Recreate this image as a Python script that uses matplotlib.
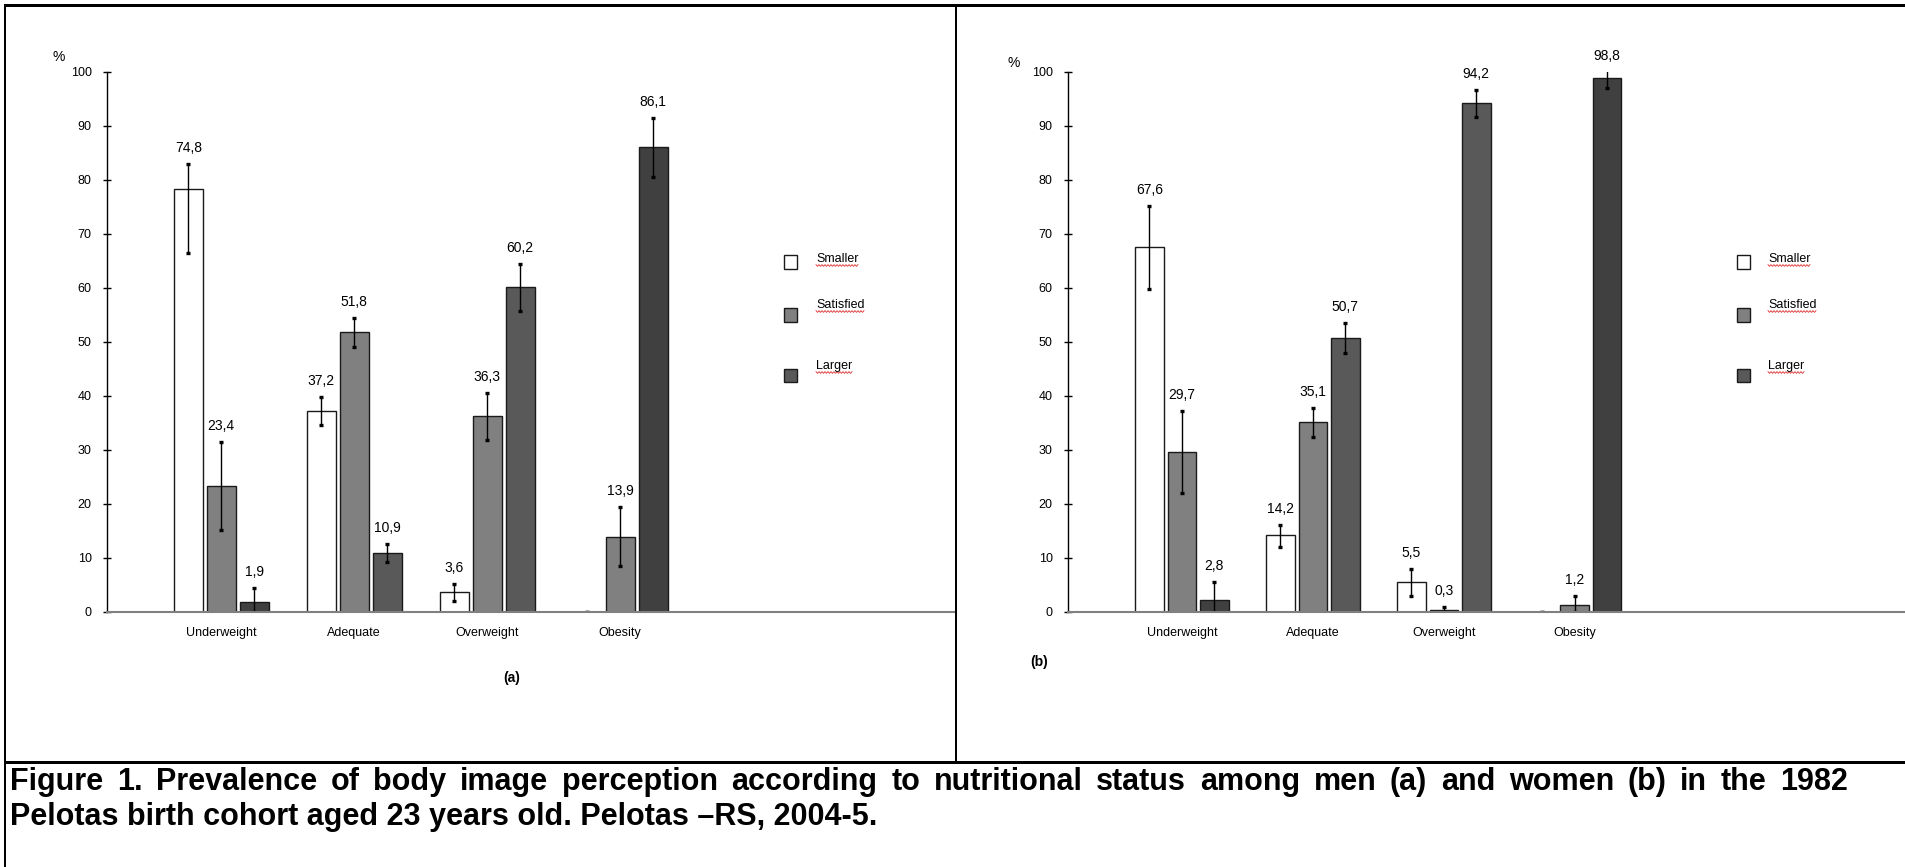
import numpy as np
import matplotlib
matplotlib.use("Agg")
import matplotlib.pyplot as plt
from matplotlib.lines import Line2D
from matplotlib.patches import Rectangle

plt.rcParams['font.family'] = ['Liberation Sans', 'DejaVu Sans']

# ---------------- data ----------------
categories = ["Underweight", "Adequate", "Overweight", "Obesity"]
series = ["Smaller", "Satisfied", "Larger"]

# Panel (a) men
a_values = {
    "Smaller":   [78.4, 37.2, 3.7, 0.0],
    "Satisfied": [23.4, 51.8, 36.3, 13.9],
    "Larger":    [1.9, 10.9, 60.2, 86.1],
}
a_hi = {
    "Smaller":   [83.0, 39.8, 5.2, 0.0],
    "Satisfied": [31.5, 54.5, 40.5, 19.4],
    "Larger":    [4.4, 12.6, 64.5, 91.4],
}
a_lo = {
    "Smaller":   [66.4, 34.6, 2.0, 0.0],
    "Satisfied": [15.2, 49.1, 31.9, 8.6],
    "Larger":    [0.0, 9.2, 55.8, 80.5],
}
a_labels = {
    "Smaller":   ["74,8", "37,2", "3,6", None],
    "Satisfied": ["23,4", "51,8", "36,3", "13,9"],
    "Larger":    ["1,9", "10,9", "60,2", "86,1"],
}

# Panel (b) women
b_values = {
    "Smaller":   [67.6, 14.2, 5.6, 0.0],
    "Satisfied": [29.7, 35.1, 0.4, 1.3],
    "Larger":    [2.2, 50.8, 94.2, 98.8],
}
b_hi = {
    "Smaller":   [75.2, 16.1, 8.0, 0.0],
    "Satisfied": [37.2, 37.8, 1.0, 2.9],
    "Larger":    [5.5, 53.5, 96.6, 101.0],
}
b_lo = {
    "Smaller":   [59.8, 12.1, 3.0, 0.0],
    "Satisfied": [22.1, 32.4, 0.0, 0.0],
    "Larger":    [0.0, 48.0, 91.6, 97.0],
}
b_labels = {
    "Smaller":   ["67,6", "14,2", "5,5", None],
    "Satisfied": ["29,7", "35,1", "0,3", "1,2"],
    "Larger":    ["2,8", "50,7", "94,2", "98,8"],
}

yticks = list(range(0, 101, 10))
caption_lines = [
    "Figure 1. Prevalence of body image perception according to nutritional status among men (a) and women (b) in the 1982",
    "Pelotas birth cohort aged 23 years old. Pelotas \u2013RS, 2004-5.",
]

# ---------------- styles ----------------
series_colors = {
    "Smaller":   ["#ffffff"] * 4,
    "Satisfied": ["#808080"] * 4,
    "Larger":    ["#404040", "#595959", "#595959", "#404040"],
}
legend_colors = {"Smaller": "#ffffff", "Satisfied": "#808080", "Larger": "#595959"}

W, H = 1906, 867
fig = plt.figure(figsize=(W / 100, H / 100), dpi=100)


def fx(px):
    return px / W


def fy(py):
    return 1 - py / H


def draw_panel(ax, values, hi, lo, labels, xlim):
    x = np.arange(len(categories))
    width = 0.218
    step = 0.248
    for i, s in enumerate(series):
        pos = x + (i - 1) * step
        v = np.array(values[s])
        h = np.array(hi[s])
        l = np.array(lo[s])
        ax.bar(pos, v, width=width, color=series_colors[s], edgecolor="#1a1a1a",
               linewidth=1.0, zorder=2)
        ax.errorbar(pos, v, yerr=[v - l, h - v], fmt="none", ecolor="black",
                    elinewidth=1.0, capsize=1.2, capthick=2.4, zorder=3)
        for p, top, lab in zip(pos, h, labels[s]):
            if lab is None:
                continue
            ax.annotate(lab, (p, min(top, 100)), xytext=(0, 11.5),
                        textcoords="offset points", ha="center", va="center",
                        fontsize=10, color="black", annotation_clip=False)
    ax.set_xlim(*xlim)
    ax.set_ylim(0, 100)
    ax.set_yticks(yticks)
    ax.set_yticklabels([str(t) for t in yticks])
    ax.set_xticks(x)
    ax.set_xticklabels(categories)
    ax.tick_params(axis="y", direction="inout", length=6, width=1, pad=8,
                   labelsize=9, colors="black")
    ax.tick_params(axis="x", length=0, pad=10.5, labelsize=9)
    for sp in ["top", "right"]:
        ax.spines[sp].set_visible(False)
    ax.spines["left"].set_color("black")
    ax.spines["left"].set_linewidth(1.0)
    ax.spines["bottom"].set_color("#808080")
    ax.spines["bottom"].set_linewidth(1.5)
    ax.spines["bottom"].set_zorder(4)
    ax.patch.set_alpha(0)


y0, y100 = 612, 72
axA = fig.add_axes([fx(107), fy(y0), fx(955 - 107), (y0 - y100) / H])
draw_panel(axA, a_values, a_hi, a_lo, a_labels, (-0.86, 5.52))
axB = fig.add_axes([fx(1068), fy(y0), fx(1906 - 1068), (y0 - y100) / H])
draw_panel(axB, b_values, b_hi, b_lo, b_labels, (-0.87, 5.53))

# "%" labels and panel letters
fig.text(fx(59), fy(57), "%", ha="center", va="center", fontsize=10)
fig.text(fx(1014), fy(63), "%", ha="center", va="center", fontsize=10)
fig.text(fx(512), fy(678), "(a)", ha="center", va="center", fontsize=10, fontweight="bold")
fig.text(fx(1039), fy(662), "(b)", ha="center", va="center", fontsize=10, fontweight="bold")

# legends (manual, Word-style)
sq = 13
legend_rows = [(262, 259), (315, 305), (375, 366)]
legend_texts = []
for sqx, txx in [(791, 816), (1744, 1768)]:
    for s, (sqy, ty) in zip(series, legend_rows):
        fig.patches.append(Rectangle((fx(sqx - sq / 2), fy(sqy + sq / 2)), sq / W, sq / H,
                                     transform=fig.transFigure, facecolor=legend_colors[s],
                                     edgecolor="#1a1a1a", linewidth=1.0, figure=fig))
        t = fig.text(fx(txx), fy(ty), s, ha="left", va="center", fontsize=9)
        legend_texts.append(t)

# red wavy spell-check underlines
fig.canvas.draw()
r = fig.canvas.get_renderer()
for t in legend_texts:
    bb = t.get_window_extent(renderer=r)
    xs = np.arange(bb.x0, bb.x1 + 0.1, 1.5)
    base = bb.y0 - 0.5
    ys = base + np.where(np.arange(len(xs)) % 2 == 0, 0.9, -0.9)
    fig.lines.append(Line2D(xs / W, ys / H, transform=fig.transFigure, color="#e03030",
                            linewidth=0.6, figure=fig))

# caption: first line justified to the right margin, last line left-aligned
cap_kw = dict(ha="left", va="center", fontsize=22, fontweight="bold")
left_px, right_px = 10, 1848
words = caption_lines[0].split(" ")
tmp = [fig.text(0, 0, w, **cap_kw) for w in words]
widths = [t.get_window_extent(renderer=r).width for t in tmp]
for t in tmp:
    t.remove()
gap = (right_px - left_px - sum(widths)) / (len(words) - 1)
xcur = left_px
for w, wd in zip(words, widths):
    fig.text(fx(xcur), fy(782), w, **cap_kw)
    xcur += wd + gap
fig.text(fx(left_px), fy(817), caption_lines[1], **cap_kw)

# table frame lines
frame = [
    ((5, W), (5, 5), 3.0),        # top
    ((5, 5), (5, H), 2.0),        # left
    ((956, 956), (5, 762), 2.0),  # divider
    ((5, W), (762, 762), 3.0),    # separator above caption
]
for xs, ys, lw in frame:
    fig.lines.append(Line2D([fx(v) for v in xs], [fy(v) for v in ys],
                            transform=fig.transFigure, color="black",
                            linewidth=lw * 0.72, figure=fig))

fig.savefig("out.png", dpi=100)
